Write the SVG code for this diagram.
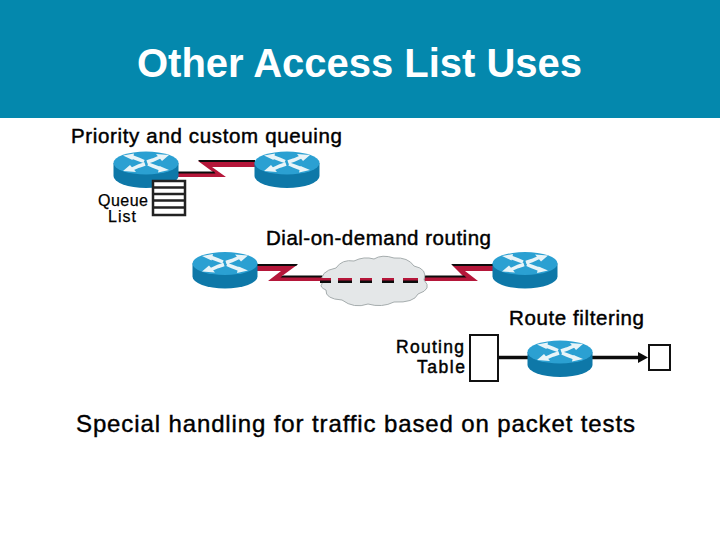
<svg xmlns="http://www.w3.org/2000/svg" width="720" height="540" viewBox="0 0 720 540">
<style>
text{font-family:"Liberation Sans",Arial,sans-serif;fill:#000}
.lab{font-size:20.500px;stroke:#000;stroke-width:.45px}
.sm{font-size:16px;stroke:#000;stroke-width:.25px}
.mid{font-size:17.500px;stroke:#000;stroke-width:.45px}
.red{fill:#b5173a}
.blk{fill:#0c0c0c}
.box{fill:#fff;stroke:#111;stroke-width:2}
.ar{fill:none;stroke:#e8f4f8;stroke-width:3.500}
</style>
<defs>
<symbol id="router" overflow="visible" viewBox="-33 -13 66 40" width="66" height="40">
<path d="M-32.500 0V13A32.500 12 0 0 0 32.500 13V0Z" fill="#0e78a8"/>
<ellipse cx="0" cy="0" rx="32.500" ry="11.500" fill="#2ba0d2"/>
<path class="ar" d="M-15-6.500L-7-3.500L-2-1.500M15 6L7 3L2 1M-15 6.500L-7 3L-1 1M15-6.500L7-3L1-1"/>
<path d="M-23-7.500L-12-9.500L-13.500-3ZM23 7L12 9.500L13.500 3ZM-23 8L-16 2L-10 9ZM23-8L16-2L10-9Z" fill="#e8f4f8"/>
</symbol>
</defs>
<rect id="page" width="720" height="540" fill="#fff"/>
<rect id="banner" width="720" height="118" fill="#0488ad"/>
<text x="137" y="77" font-size="40" font-weight="bold" textLength="445" style="fill:#fff">Other Access List Uses</text>

<g id="connectors">
<path class="red" d="M198 161H255V167H212L226 177H178V172H213Z"/>
<path class="blk" d="M178 171.500H214L215.500 173.500H178ZM198 160H255V162H200Z"/>
<path class="red" d="M257 265H297L282 276H330V281H268L281 271H257Z"/>
<path class="blk" d="M257 264H298L296 266H257ZM283 275.500H330V277.500H280.500Z"/>
<path class="red" d="M452 265H493V271H465L478 281H420V276H463Z"/>
<path class="blk" d="M420 275.500H464L466.500 277.500H420ZM451 264H493V266H453.500Z"/>
<path id="cloud" d="M322 284q-3-13 14-16q6-9 18-7q10-5 20-2q8-5 20-1q14-1 20 8q14 3 10 14q9 9-6 14q-4 9-24 8q-12 6-26 2q-14 5-26-4q-17-1-16-10q-7-3-4-6Z" fill="#e4e7e8" stroke="#a6adae" stroke-width="1"/>
<g id="dial-dashes">
<g class="red"><rect x="320" y="278" width="11" height="3"/><rect x="338" y="278" width="14" height="3"/><rect x="360" y="278" width="12" height="3"/><rect x="382" y="278" width="12" height="3"/><rect x="403" y="278" width="15" height="3"/></g>
<g class="blk"><rect x="320" y="280.500" width="11" height="2.500"/><rect x="338" y="280.500" width="14" height="2.500"/><rect x="360" y="280.500" width="12" height="2.500"/><rect x="382" y="280.500" width="12" height="2.500"/><rect x="403" y="280.500" width="15" height="2.500"/></g>
</g>
<path d="M498 357.500H528" stroke="#0c0c0c" stroke-width="3.500" fill="none"/>
<path d="M592 357.500H640" stroke="#0c0c0c" stroke-width="3.500" fill="none"/>
<path class="blk" d="M638 352L648 357.500L638 363Z"/>
</g>

<g id="router-1"><use href="#router" x="113" y="150"/></g>
<g id="router-2"><use href="#router" x="254" y="150"/></g>
<g id="router-3"><use href="#router" x="192" y="250.500"/></g>
<g id="router-4"><use href="#router" x="492" y="250.500"/></g>
<g id="router-5"><use href="#router" x="527" y="339"/></g>

<g id="queue-list">
<rect x="153" y="181" width="32" height="34" fill="#fff" stroke="#222" stroke-width="2.500"/>
<path d="M153 187.500H185M153 194H185M153 200.500H185M153 207.500H185" stroke="#222" stroke-width="2.500" fill="none"/>
<text class="sm" x="98" y="206" textLength="50">Queue</text>
<text class="sm" x="108" y="222" textLength="28">List</text>
</g>
<g id="routing-table">
<rect class="box" x="470" y="335" width="28" height="46"/>
<text class="mid" x="396" y="353" textLength="68">Routing</text>
<text class="mid" x="417" y="373" textLength="48">Table</text>
</g>
<rect id="filter-box" class="box" x="649" y="345" width="21" height="25"/>

<text class="lab" x="71" y="143" textLength="271">Priority and custom queuing</text>
<text class="lab" x="266" y="245" textLength="225">Dial-on-demand routing</text>
<text class="lab" x="509" y="325" textLength="135">Route filtering</text>
<text x="76" y="432" font-size="24" stroke="#000" stroke-width=".4" textLength="559">Special handling for traffic based on packet tests</text>
</svg>
